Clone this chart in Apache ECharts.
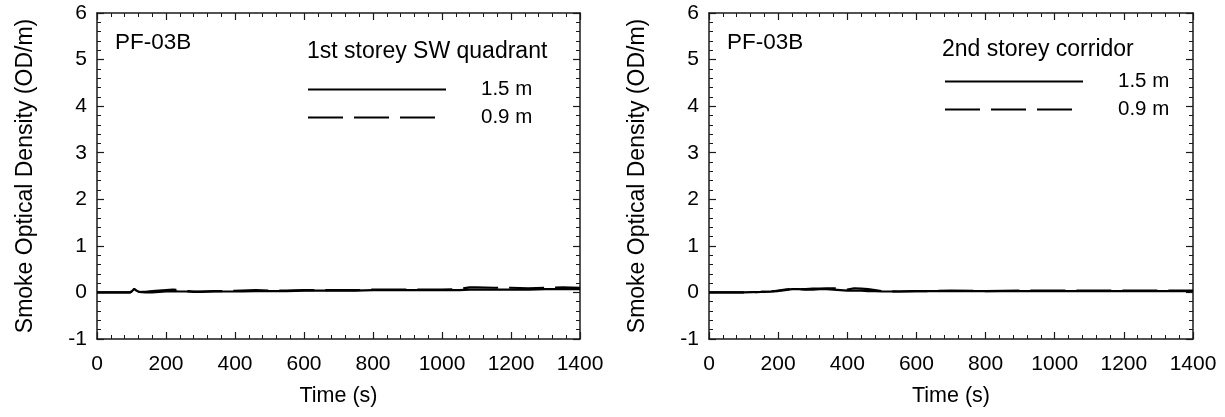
<!DOCTYPE html>
<html>
<head>
<meta charset="utf-8">
<style>
  html, body { margin: 0; padding: 0; background: #fff; }
  #chart { width: 1225px; height: 417px; }
</style>
<script src="https://cdn.jsdelivr.net/npm/echarts@6/dist/echarts.min.js"></script>
</head>
<body>
<div id="chart"></div>
<script>
// Smoke optical density, test PF-03B, two measurement locations
const timeSW = [0, 50, 95, 102, 108, 114, 122, 140, 160, 180, 200, 220, 240, 260, 280, 300, 340, 380, 420, 460, 500, 550, 600, 650, 700, 750, 800, 850, 900, 950, 1000, 1050, 1080, 1100, 1150, 1200, 1250, 1300, 1350, 1400];
const sw15 = [0, 0, 0, 0.03, 0.08, 0.04, 0.01, 0.0, 0.0, 0.01, 0.02, 0.03, 0.02, 0.02, 0.01, 0.01, 0.02, 0.02, 0.02, 0.03, 0.03, 0.03, 0.04, 0.04, 0.04, 0.04, 0.05, 0.05, 0.05, 0.05, 0.05, 0.05, 0.06, 0.06, 0.06, 0.06, 0.06, 0.07, 0.07, 0.07];
const sw09 = [0, 0, 0, 0.02, 0.06, 0.03, 0.01, 0.01, 0.03, 0.04, 0.05, 0.06, 0.05, 0.03, 0.02, 0.02, 0.03, 0.03, 0.04, 0.05, 0.04, 0.04, 0.05, 0.05, 0.05, 0.05, 0.06, 0.06, 0.06, 0.06, 0.06, 0.07, 0.11, 0.11, 0.10, 0.10, 0.09, 0.10, 0.11, 0.10];

const timeCor = [0, 50, 100, 150, 180, 200, 220, 240, 260, 280, 300, 320, 340, 360, 380, 400, 420, 440, 460, 480, 500, 550, 600, 650, 700, 800, 900, 1000, 1100, 1200, 1300, 1400];
const cor15 = [0, 0, 0, 0.01, 0.02, 0.03, 0.05, 0.07, 0.07, 0.06, 0.06, 0.07, 0.07, 0.06, 0.05, 0.04, 0.04, 0.04, 0.03, 0.03, 0.02, 0.02, 0.03, 0.03, 0.03, 0.03, 0.03, 0.03, 0.03, 0.03, 0.03, 0.03];
const cor09 = [0, 0, 0, 0.01, 0.02, 0.04, 0.06, 0.08, 0.07, 0.07, 0.08, 0.08, 0.09, 0.09, 0.08, 0.06, 0.09, 0.08, 0.07, 0.05, 0.03, 0.02, 0.03, 0.03, 0.04, 0.03, 0.04, 0.04, 0.04, 0.04, 0.04, 0.04];

const xTicks = { min: 0, max: 1400, interval: 200 };
const yTicks = { min: -1, max: 6, interval: 1 };

const FONT = 'Liberation Sans, Arial, sans-serif';
const AX = '#1a1a1a';

function pairs(t, v) { return t.map((x, i) => [x, v[i]]); }

function xAxes(grid) {
  const common = {
    type: 'value', gridIndex: grid, min: xTicks.min, max: xTicks.max, interval: xTicks.interval,
    axisLine: { show: true, onZero: false, lineStyle: { color: AX, width: 1.5 } },
    axisTick: { show: true, inside: true, length: 7, lineStyle: { color: AX, width: 1.2 } },
    minorTick: { show: true, splitNumber: 5, length: 4, lineStyle: { color: AX, width: 1 } },
    splitLine: { show: false }
  };
  return [
    Object.assign({}, common, {
      position: 'bottom',
      axisLabel: { show: true, color: '#000', fontFamily: FONT, fontSize: 21, margin: 15, formatter: v => String(v) },
      name: 'Time (s)', nameLocation: 'middle', nameGap: 46,
      nameTextStyle: { color: '#000', fontFamily: FONT, fontSize: 21.5 }
    }),
    Object.assign({}, common, { position: 'top', axisLabel: { show: false } })
  ];
}

function yAxes(grid) {
  const common = {
    type: 'value', gridIndex: grid, min: yTicks.min, max: yTicks.max, interval: yTicks.interval,
    axisLine: { show: true, onZero: false, lineStyle: { color: AX, width: 1.5 } },
    axisTick: { show: true, inside: true, length: 7, lineStyle: { color: AX, width: 1.2 } },
    minorTick: { show: true, splitNumber: 5, length: 4, lineStyle: { color: AX, width: 1 } },
    splitLine: { show: false }
  };
  return [
    Object.assign({}, common, {
      position: 'left',
      axisLabel: { show: true, color: '#000', fontFamily: FONT, fontSize: 21, margin: 10 },
      name: 'Smoke Optical Density (OD/m)', nameLocation: 'middle', nameGap: 60,
      nameTextStyle: { color: '#000', fontFamily: FONT, fontSize: 23 }
    }),
    Object.assign({}, common, { position: 'right', axisLabel: { show: false } })
  ];
}

function lineSeries(name, xi, yi, data, dashed) {
  return {
    name: name, type: 'line', xAxisIndex: xi, yAxisIndex: yi,
    data: data, symbol: 'none', smooth: false, animation: false,
    lineStyle: { color: '#000', width: 2.2, type: dashed ? [35, 11] : 'solid' },
    itemStyle: { color: '#000' }
  };
}

function legendAt(left, top) {
  return {
    data: ['1.5 m', '0.9 m'], orient: 'vertical', left: left, top: top, padding: 0,
    itemWidth: 138, itemHeight: 14, itemGap: 7, selectedMode: false,
    itemStyle: { opacity: 0 },
    formatter: n => '{g| }' + n,
    textStyle: {
      color: '#000', fontFamily: FONT, fontSize: 20.5,
      rich: { g: { width: 30 } }
    }
  };
}

function label(x, y, text, size) {
  return {
    type: 'text', left: x, top: y,
    style: { text: text, fill: '#000', font: size + 'px ' + FONT }
  };
}

const chart = echarts.init(document.getElementById('chart'), null, { renderer: 'canvas' });
chart.setOption({
  animation: false,
  backgroundColor: '#fff',
  grid: [
    { left: 97, top: 13, width: 483, height: 326 },
    { left: 709, top: 13, width: 484, height: 326 }
  ],
  xAxis: [...xAxes(0), ...xAxes(1)],
  yAxis: [...yAxes(0), ...yAxes(1)],
  legend: [legendAt(307, 79), legendAt(944, 71)],
  graphic: [
    label(115, 31, 'PF-03B', 22.5),
    label(307, 40, '1st storey SW quadrant', 23),
    label(727, 31, 'PF-03B', 22.5),
    label(942, 38, '2nd storey corridor', 23)
  ],
  series: [
    lineSeries('1.5 m', 0, 0, pairs(timeSW, sw15), false),
    lineSeries('0.9 m', 0, 0, pairs(timeSW, sw09), true),
    lineSeries('1.5 m', 2, 2, pairs(timeCor, cor15), false),
    lineSeries('0.9 m', 2, 2, pairs(timeCor, cor09), true)
  ]
});
</script>
</body>
</html>
